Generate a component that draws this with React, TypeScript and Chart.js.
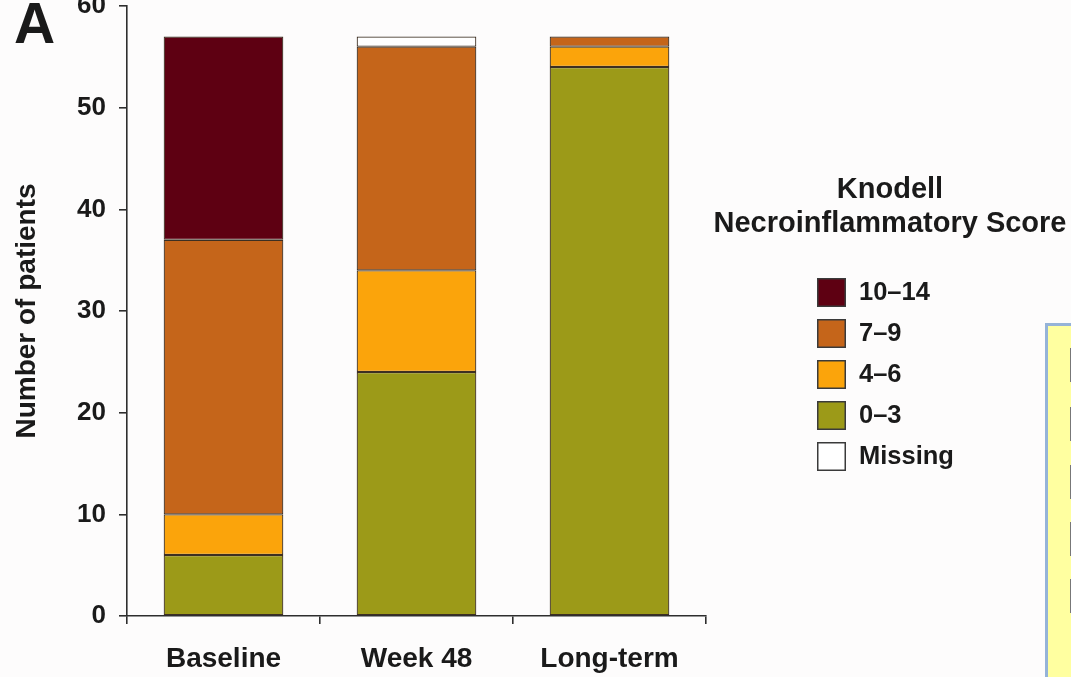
import React, { useEffect, useRef } from 'react';
import { Chart, registerables } from 'chart.js';

Chart.register(...registerables);

// Categories along the x axis
const categories = ['Baseline', 'Week 48', 'Long-term'];

// Number of patients per Knodell necroinflammatory score band (stacked bottom to top)
const score0to3 = [6, 24, 54];
const score4to6 = [4, 10, 2];
const score7to9 = [27, 22, 1];
const score10to14 = [20, 0, 0];
const scoreMissing = [0, 1, 0];

const seriesLabels = ['0–3', '4–6', '7–9', '10–14', 'Missing'];
const seriesColors = ['#9c9a18', '#fba40b', '#c5651a', '#5e0012', '#ffffff'];

// Legend lists the bands from highest to lowest, then missing
const legendOrder = [3, 2, 1, 0, 4];
const legendTitle = ['Knodell', 'Necroinflammatory Score'];

const yMin = 0;
const yMax = 60;
const yStep = 10;
const yAxisTitle = 'Number of patients';
const panelLetter = 'A';

const FONT = '"Liberation Sans", Arial, Helvetica, sans-serif';
const TEXT = '#1a1a1a';
const AXIS = '#2e2e2e';

const scoreLegend = {
  id: 'scoreLegend',
  afterDraw(chart: any) {
    const { ctx } = chart;
    ctx.save();
    ctx.fillStyle = TEXT;
    ctx.textAlign = 'center';
    ctx.textBaseline = 'middle';
    ctx.font = `bold 29px ${FONT}`;
    legendTitle.forEach((line, i) => ctx.fillText(line, 890, 190 + i * 34));

    legendOrder.forEach((di, row) => {
      const ds = chart.data.datasets[di];
      const top = 278 + row * 41;
      ctx.fillStyle = ds.backgroundColor;
      ctx.fillRect(817, top, 29, 29);
      ctx.strokeStyle = '#3a3a3a';
      ctx.lineWidth = 1.5;
      ctx.strokeRect(817.75, top + 0.75, 27.5, 27.5);
      ctx.fillStyle = TEXT;
      ctx.textAlign = 'left';
      ctx.font = `bold 25.5px ${FONT}`;
      ctx.fillText(ds.label, 859, top + 15);
    });

    ctx.textAlign = 'left';
    ctx.textBaseline = 'alphabetic';
    ctx.font = `bold 57px ${FONT}`;
    ctx.fillText(panelLetter, 14, 43);
    ctx.restore();
  },
};

export default function App() {
  const canvasRef = useRef<HTMLCanvasElement | null>(null);

  useEffect(() => {
    const canvas = canvasRef.current;
    if (!canvas) return;
    const seriesData = [score0to3, score4to6, score7to9, score10to14, scoreMissing];
    const chart = new Chart(canvas, {
      type: 'bar',
      data: {
        labels: categories,
        datasets: seriesData.map((values, i) => ({
          label: seriesLabels[i],
          data: values,
          backgroundColor: seriesColors[i],
          borderColor: '#3d2f22',
          borderWidth: (c: any) => (c.raw ? 1.2 : 0),
          borderSkipped: false,
          categoryPercentage: 1,
          barPercentage: 0.62,
        })),
      },
      options: {
        responsive: false,
        animation: false,
        devicePixelRatio: 1,
        layout: { padding: { top: 6, left: 0, right: 365, bottom: 0 } },
        plugins: {
          legend: { display: false },
          tooltip: { enabled: false },
        },
        scales: {
          x: {
            stacked: true,
            grid: {
              offset: true,
              drawOnChartArea: false,
              drawTicks: true,
              tickLength: 8,
              color: AXIS,
              lineWidth: 1.6,
            },
            border: { display: true, color: AXIS, width: 1.6 },
            ticks: {
              color: TEXT,
              font: { family: FONT, size: 28, weight: 'bold' },
              padding: 18,
              maxRotation: 0,
            },
            afterFit: (s: any) => {
              s.height = 61;
              s.paddingLeft = 0;
              s.paddingRight = 0;
            },
          },
          y: {
            stacked: true,
            min: yMin,
            max: yMax,
            grid: {
              drawOnChartArea: false,
              drawTicks: true,
              tickLength: 8,
              color: AXIS,
              lineWidth: 1.6,
            },
            border: { display: true, color: AXIS, width: 1.6 },
            ticks: {
              stepSize: yStep,
              color: TEXT,
              font: { family: FONT, size: 26, weight: 'bold' },
              padding: 13,
            },
            title: {
              display: true,
              text: yAxisTitle,
              color: TEXT,
              font: { family: FONT, size: 28, weight: 'bold' },
              padding: { top: 10, bottom: 0 },
            },
            afterFit: (s: any) => {
              s.width = 127;
              s.paddingTop = 0;
              s.paddingBottom = 0;
            },
          },
        },
      },
      plugins: [scoreLegend],
    });
    return () => chart.destroy();
  }, []);

  const noteMarks = [348, 407, 465, 522, 579];

  return (
    <div
      style={{
        position: 'fixed',
        left: 0,
        top: 0,
        width: 1071,
        height: 677,
        overflow: 'hidden',
        background: '#fdfcfc',
      }}
    >
      <canvas
        ref={canvasRef}
        width={1071}
        height={677}
        style={{ position: 'absolute', left: 0, top: 0, width: 1071, height: 677 }}
      />
      <div
        style={{
          position: 'absolute',
          left: 1045,
          top: 323,
          width: 60,
          height: 400,
          background: '#ffffa0',
          border: '3px solid #95b3d8',
          boxSizing: 'border-box',
        }}
      >
        {noteMarks.map((t) => (
          <div
            key={t}
            style={{
              position: 'absolute',
              left: 22,
              top: t - 326,
              width: 2,
              height: 34,
              background: '#777',
            }}
          />
        ))}
      </div>
    </div>
  );
}
